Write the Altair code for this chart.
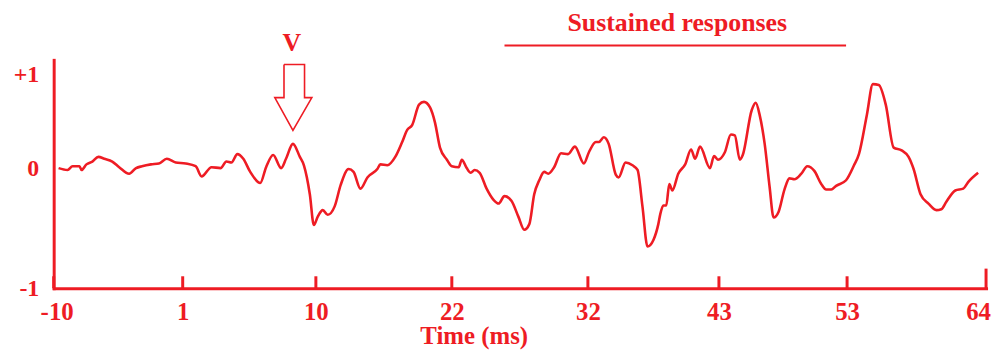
import altair as alt
import pandas as pd

# ---- data ----
time_ms = [
    -9.61, -8.90, -8.50, -7.95, -7.79, -7.40, -6.93, -6.45, -5.98, -5.35,
    -4.80, -4.01, -3.46, -2.99, -2.28, -1.65, -1.02, -0.31, 0.48, 1.27,
    1.74, 2.53, 3.24, 3.71, 4.11, 4.58, 5.05, 5.60, 6.39, 6.86,
    7.42, 8.05, 8.44, 8.99, 9.54, 9.86, 10.33, 10.65, 10.96, 11.36,
    11.75, 12.30, 12.78, 13.41, 13.80, 14.35, 14.90, 15.69, 15.93, 16.48,
    17.11, 17.66, 18.06, 18.45, 19.00, 19.39, 19.87, 20.26, 20.66, 21.21,
    21.60, 22.15, 22.39, 22.78, 23.10, 23.41, 23.81, 24.36, 24.91, 25.31,
    25.78, 26.33, 26.88, 27.35, 27.75, 28.14, 28.54, 28.93, 29.25, 29.72,
    30.27, 30.82, 31.37, 32.08, 32.48, 33.03, 33.27, 33.66, 34.05, 34.61,
    34.84, 35.39, 35.94, 36.34, 36.73, 37.13, 37.60, 37.99, 38.15, 38.39,
    38.62, 38.86, 39.10, 39.57, 40.12, 40.59, 40.91, 41.30, 42.09, 42.41,
    42.72, 43.27, 43.75, 44.06, 44.46, 44.69, 45.40, 45.72, 46.03, 46.43,
    46.82, 47.14, 47.53, 48.00, 48.40, 48.79, 49.34, 49.81, 50.37, 50.92,
    51.31, 51.71, 52.10, 52.89, 53.52, 53.91, 54.54, 55.02, 55.49, 56.04,
    56.67, 57.30, 57.85, 58.25, 58.80, 59.43, 60.06, 60.45, 60.85, 61.56,
    62.19, 62.58, 63.37,
]
amplitude = [
    0.00, -0.02, 0.02, 0.02, -0.02, 0.04, 0.07, 0.12, 0.10, 0.07,
    0.01, -0.06, 0.00, 0.02, 0.04, 0.05, 0.10, 0.06, 0.05, 0.02,
    -0.09, 0.01, 0.00, 0.07, 0.06, 0.15, 0.10, -0.04, -0.16, 0.01,
    0.14, 0.00, 0.10, 0.26, 0.12, 0.03, -0.28, -0.61, -0.52, -0.45,
    -0.50, -0.41, -0.18, -0.01, -0.04, -0.22, -0.10, -0.01, 0.04, 0.03,
    0.12, 0.28, 0.41, 0.46, 0.68, 0.71, 0.65, 0.49, 0.22, 0.09,
    0.02, 0.01, 0.09, 0.00, -0.05, -0.02, -0.05, -0.22, -0.34, -0.38,
    -0.30, -0.35, -0.52, -0.66, -0.60, -0.28, -0.13, -0.04, -0.06, 0.01,
    0.16, 0.15, 0.23, 0.05, 0.17, 0.28, 0.28, 0.33, 0.26, -0.07,
    -0.10, 0.06, 0.03, -0.02, -0.41, -0.84, -0.77, -0.60, -0.49, -0.40,
    -0.40, -0.17, -0.24, -0.06, 0.04, 0.20, 0.10, 0.23, 0.00, 0.13,
    0.09, 0.17, 0.36, 0.35, 0.09, 0.14, 0.62, 0.70, 0.57, 0.26,
    -0.20, -0.53, -0.47, -0.23, -0.11, -0.12, -0.06, 0.02, -0.03, -0.17,
    -0.23, -0.23, -0.19, -0.13, 0.03, 0.15, 0.57, 0.90, 0.89, 0.68,
    0.22, 0.19, 0.12, -0.01, -0.28, -0.38, -0.45, -0.44, -0.36, -0.24,
    -0.22, -0.15, -0.05,
]

tick_pos = [-10, 0.24, 10.81, 21.60, 32.40, 42.80, 52.97, 64]
tick_labels = ["-10", "1", "10", "22", "32", "43", "53", "64"]

y_min, y_max = -1.287, 1.16
y_tick_vals = [y_min, 0, 1]
y_tick_labels = ["-1", "0", "+1"]

# annotation geometry (data units)
arrow_t = [8.28, 9.91, 9.91, 10.49, 8.99, 7.55, 8.28, 8.28]
arrow_v = [1.11, 1.11, 0.755, 0.755, 0.404, 0.755, 0.755, 1.11]
peak_label = {"t": [8.91], "v": [1.34], "label": ["V"]}
sustained_label = {"t": [39.49], "v": [1.555], "label": ["Sustained responses"]}
sustained_span = {"t": [25.78], "t2": [52.89], "v": [1.314]}

RED = "#ee1c24"
FONT = "Liberation Serif"

xs = alt.Scale(domain=[-10, 64], nice=False, zero=False)
ys = alt.Scale(domain=[y_min, y_max], nice=False, zero=False)

x_label_expr = "".join(
    f"abs(datum.value - ({p})) < 0.01 ? '{l}' : " for p, l in zip(tick_pos, tick_labels)
) + "''"
y_label_expr = "".join(
    f"abs(datum.value - ({p})) < 0.01 ? '{l}' : " for p, l in zip(y_tick_vals, y_tick_labels)
) + "''"

AX_X = alt.Axis(
    values=tick_pos, labelExpr=x_label_expr, ticks=False, tickSize=0,
    grid=False, domainColor=RED, domainWidth=3, domainCap="square",
    labelColor=RED, labelFont=FONT, labelFontSize=25, labelFontWeight="bold",
    labelPadding=11, labelAngle=0, labelFlush=False, labelOverlap=False,
    labelOffset={"condition": [{"test": "datum.value < -9", "value": 3},
                               {"test": "datum.value > 63", "value": -8}],
                 "value": 0},
    title="Time (ms)", titleColor=RED, titleFont=FONT, titleFontSize=25,
    titleFontWeight="bold", titleX=423, titleY=56, titleBaseline="alphabetic",
    titleAlign="center",
)
AX_Y = alt.Axis(
    values=y_tick_vals, labelExpr=y_label_expr, ticks=False, tickSize=0,
    grid=False, domainColor=RED, domainWidth=3, domainCap="square",
    labelColor=RED, labelFont=FONT, labelFontSize=24, labelFontWeight="bold",
    labelPadding=15, labelFlush=False, labelOverlap=False, title=None,
)


def X(field):
    return alt.X(field, type="quantitative", scale=xs, axis=AX_X)


def Y(field):
    return alt.Y(field, type="quantitative", scale=ys, axis=AX_Y)


signal = pd.DataFrame({"t": time_ms, "v": amplitude})

line = alt.Chart(signal).mark_line(
    color=RED, strokeWidth=2.6, interpolate="monotone"
).encode(x=X("t"), y=Y("v"))

ticks_df = pd.DataFrame({
    "t": tick_pos,
    "v": [y_min] * len(tick_pos),
    "v1": [y_min + (0.21 if i == len(tick_pos) - 1 else 0.128) for i in range(len(tick_pos))],
})
ticks = alt.Chart(ticks_df).mark_rule(color=RED, strokeWidth=3).encode(
    x=X("t"), y=Y("v"), y2="v1:Q",
)

arrow_df = pd.DataFrame({"t": arrow_t, "v": arrow_v, "i": list(range(len(arrow_t)))})
arrow = alt.Chart(arrow_df).mark_line(color=RED, strokeWidth=1.6).encode(
    x=X("t"), y=Y("v"), order="i:O",
)

v_text = alt.Chart(pd.DataFrame(peak_label)).mark_text(
    font=FONT, fontSize=26, fontWeight="bold", color=RED, baseline="middle", align="center"
).encode(x=X("t"), y=Y("v"), text="label:N")

s_text = alt.Chart(pd.DataFrame(sustained_label)).mark_text(
    font=FONT, fontSize=26, fontWeight="bold", color=RED, baseline="middle", align="center"
).encode(x=X("t"), y=Y("v"), text="label:N")

s_line = alt.Chart(pd.DataFrame(sustained_span)).mark_rule(color=RED, strokeWidth=2).encode(
    x=X("t"), x2="t2:Q", y=Y("v"),
)

chart = alt.layer(line, ticks, arrow, v_text, s_text, s_line).properties(
    width=939,
    height=230,
    autosize=alt.AutoSizeParams(type="none"),
    padding={"left": 46, "top": 51, "right": 7, "bottom": 61},
    background="white",
).configure_view(stroke=None)

chart.save("out.html", embed_options={"renderer": "svg", "actions": False})
